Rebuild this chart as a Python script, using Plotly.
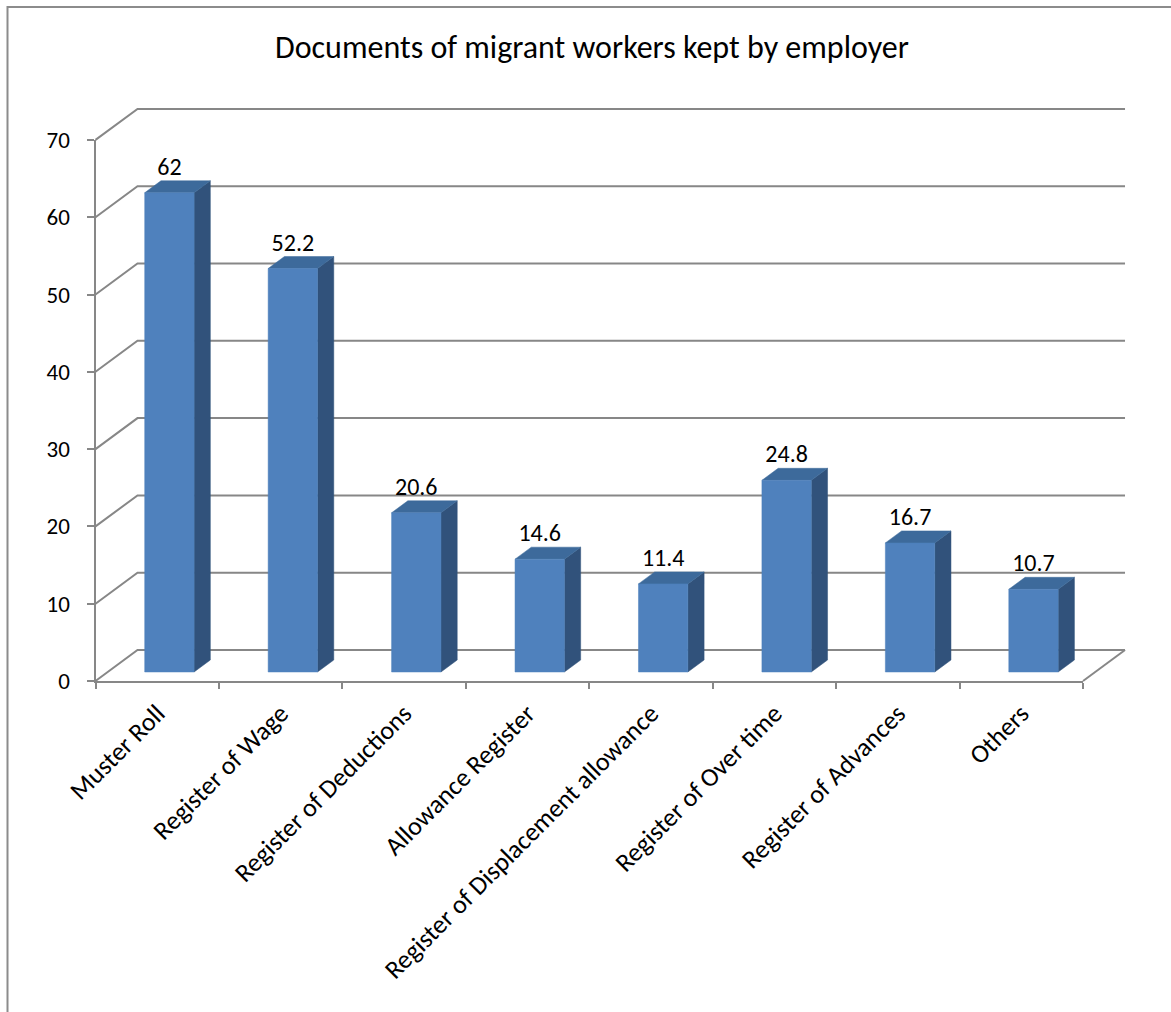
import plotly.graph_objects as go

# ---- data ----
categories = [
    "Muster Roll",
    "Register of Wage",
    "Register of Deductions",
    "Allowance Register",
    "Register of Displacement allowance",
    "Register of Over time",
    "Register of Advances",
    "Others",
]
values = [62, 52.2, 20.6, 14.6, 11.4, 24.8, 16.7, 10.7]
y_ticks = [0, 10, 20, 30, 40, 50, 60, 70]
title_text = "Documents of migrant workers kept by employer"

# ---- page geometry (pixels) ----
W, H = 1171, 1012
X0PX, Y0PX = 95.5, 681.0          # front-axis origin
PX_PER_CAT = 123.44
PX_PER_VAL = 7.73
N = len(categories)
Y_MAX = y_ticks[-1]

# depth offset of the back wall, in data units
DX = 42 / PX_PER_CAT
DY = 31 / PX_PER_VAL
# bar front/back depth fractions and width inside a category slot
D1, D2 = 0.29, 0.677
BAR_L, BAR_R = 0.30, 0.70

FONT = "Calibri, Carlito, Lato, sans-serif"
GRID = "#878787"
FRONT = "#4F81BD"
SIDE = "#31527B"
TOP = "#3D6A9B"

fig = go.Figure()

# back-wall gridlines and side-wall diagonals
for v in y_ticks:
    fig.add_trace(go.Scatter(
        x=[0, DX, N + DX], y=[v, v + DY, v + DY], mode="lines",
        line=dict(color=GRID, width=2), hoverinfo="skip", showlegend=False))
# right edge of the floor
fig.add_trace(go.Scatter(
    x=[N, N + DX], y=[0, DY], mode="lines",
    line=dict(color=GRID, width=2), hoverinfo="skip", showlegend=False))


def poly(xs, ys, color):
    fig.add_trace(go.Scatter(
        x=xs + [xs[0]], y=ys + [ys[0]], mode="lines", fill="toself",
        fillcolor=color, line=dict(color=color, width=0.5),
        hoverinfo="skip", showlegend=False))


label_x, label_y = [], []
for i, v in enumerate(values):
    u0, u1 = i + BAR_L, i + BAR_R
    fx0, fx1 = u0 + D1 * DX, u1 + D1 * DX
    bx0, bx1 = u0 + D2 * DX, u1 + D2 * DX
    fy0, by0 = D1 * DY, D2 * DY
    # side face
    poly([fx1, bx1, bx1, fx1], [fy0, by0, v + by0, v + fy0], SIDE)
    # top face
    poly([fx0, fx1, bx1, bx0], [v + fy0, v + fy0, v + by0, v + by0], TOP)
    # front face
    poly([fx0, fx1, fx1, fx0], [fy0, fy0, v + fy0, v + fy0], FRONT)
    label_x.append((fx0 + fx1) / 2)
    label_y.append(v + by0)

# value labels
fig.add_trace(go.Scatter(
    x=label_x, y=label_y, mode="text",
    text=[f"{v:g}" for v in values], textposition="top center",
    textfont=dict(family=FONT, size=24, color="#000000"),
    hoverinfo="skip", showlegend=False))

# carrier trace for the labelled front axes
fig.add_trace(go.Scatter(
    x=[0], y=[0], xaxis="x2", yaxis="y2", mode="markers",
    marker=dict(opacity=0), hoverinfo="skip", showlegend=False))

fig.update_layout(
    width=W, height=H,
    margin=dict(l=0, r=0, t=0, b=0, pad=0, autoexpand=False),
    showlegend=False,
    paper_bgcolor="white", plot_bgcolor="rgba(0,0,0,0)",
    xaxis=dict(range=[-X0PX / PX_PER_CAT, (W - X0PX) / PX_PER_CAT],
               visible=False, fixedrange=True, automargin=False),
    yaxis=dict(range=[-(H - Y0PX) / PX_PER_VAL, Y0PX / PX_PER_VAL],
               visible=False, fixedrange=True, automargin=False),
    xaxis2=dict(
        domain=[X0PX / W, (X0PX + N * PX_PER_CAT) / W], range=[0, N],
        anchor="y2", showgrid=False, zeroline=False, automargin=False,
        showline=True, linecolor=GRID, linewidth=2,
        tickmode="array", tickvals=[i + 0.5 for i in range(N)],
        ticktext=categories, ticks="", tickangle=-45,
        ticklabelstandoff=5,
        tickfont=dict(family=FONT, size=26, color="#000000"),
        minor=dict(tickmode="array", tickvals=list(range(N + 1)),
                   ticks="outside", ticklen=6, tickwidth=2,
                   tickcolor=GRID, showgrid=False),
        fixedrange=True),
    yaxis2=dict(
        domain=[(H - Y0PX) / H, (H - Y0PX + Y_MAX * PX_PER_VAL) / H],
        range=[0, Y_MAX], anchor="x2", showgrid=False, zeroline=False,
        automargin=False,
        showline=True, linecolor=GRID, linewidth=2,
        tickmode="array", tickvals=y_ticks,
        ticks="outside", ticklen=7, tickwidth=2, tickcolor=GRID,
        ticklabelstandoff=12,
        tickfont=dict(family=FONT, size=23, color="#000000"),
        fixedrange=True),
    annotations=[dict(
        text=title_text, xref="paper", yref="paper",
        x=592 / W, y=1 - 48 / H, xanchor="center", yanchor="middle",
        showarrow=False, font=dict(family=FONT, size=32, color="#000000"))],
    shapes=[dict(
        type="path", xref="paper", yref="paper",
        path=f"M {7.5 / W} 0 L {7.5 / W} {1 - 7 / H} L 1 {1 - 7 / H}",
        line=dict(color="#8C8C8C", width=2))],
)

fig.write_html("out.html")
